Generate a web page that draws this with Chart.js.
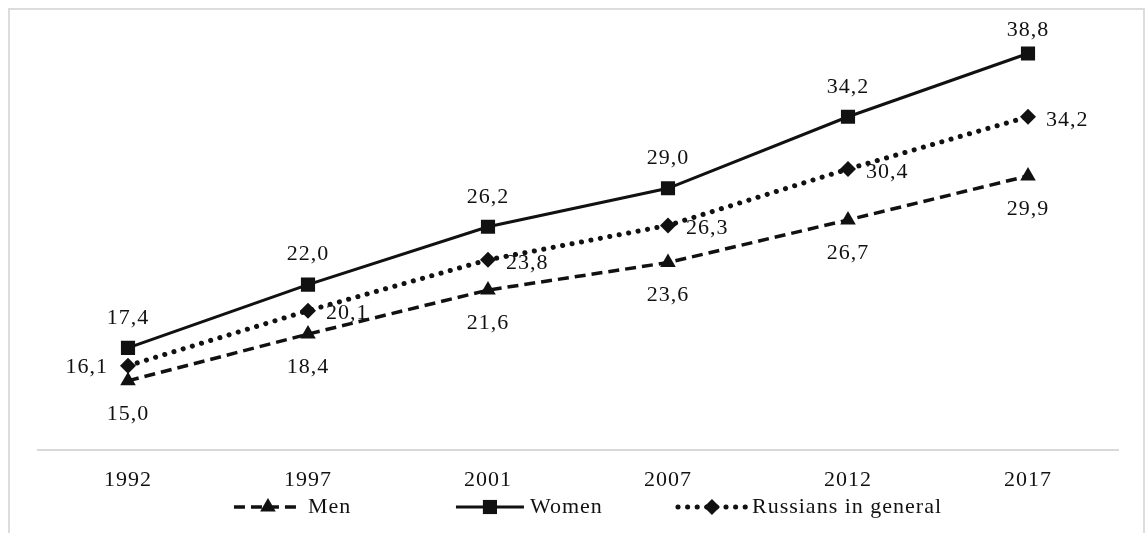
<!DOCTYPE html>
<html><head><meta charset="utf-8">
<script src="https://cdn.jsdelivr.net/npm/chart.js@4.4.0/dist/chart.umd.min.js"></script>
<style>
html,body{margin:0;padding:0;background:#fff;overflow:hidden}
#frame{position:absolute;left:8px;top:8px;width:1137px;height:600px;border:2px solid #dcdcdc;box-sizing:border-box}
#wrap{position:absolute;left:0;top:0;width:1146px;height:533px}
</style></head><body>
<div id="frame"></div>
<div id="wrap"><canvas id="c" width="1146" height="533"></canvas></div>
<script>
const categories = ['1992','1997','2001','2007','2012','2017'];
const men = [15.0, 18.4, 21.6, 23.6, 26.7, 29.9];
const women = [17.4, 22.0, 26.2, 29.0, 34.2, 38.8];
const russians = [16.1, 20.1, 23.8, 26.3, 30.4, 34.2];
const seriesNames = ['Men', 'Women', 'Russians in general'];
const menLabelPos = ['below','below','below','below','below','below'];
const womenLabelPos = ['above','above','above','above','above','above'];
const russiansLabelPos = ['left','right','right','right','right','right'];
const yMin = 10, yMax = 40;

const FONT = '"Liberation Serif", "Times New Roman", serif';
const INK = '#111';
const LS = '1px';
const FS = 22;

const spacingPlugin = {
  id: 'spacing',
  beforeDraw(chart) { chart.ctx.letterSpacing = LS; }
};

function fmt(v) { return v.toFixed(1).replace('.', ','); }

const labelsPlugin = {
  id: 'valueLabels',
  afterDatasetsDraw(chart) {
    const ctx = chart.ctx;
    ctx.save();
    ctx.letterSpacing = LS;
    ctx.font = FS + 'px ' + FONT;
    ctx.fillStyle = INK;
    ctx.textBaseline = 'middle';
    chart.data.datasets.forEach((ds, di) => {
      const meta = chart.getDatasetMeta(di);
      meta.data.forEach((pt, i) => {
        const pos = ds.labelPos[i];
        const txt = fmt(ds.data[i]);
        let x = pt.x, y = pt.y;
        if (pos === 'above') { ctx.textAlign = 'center'; y = Math.max(pt.y - 30, 30); }
        else if (pos === 'below') { ctx.textAlign = 'center'; y = pt.y + 33; }
        else if (pos === 'right') { ctx.textAlign = 'left'; x = pt.x + 18; y = pt.y + 3; }
        else { ctx.textAlign = 'right'; x = pt.x - 20; y = pt.y + 2; }
        ctx.fillText(txt, x, y);
      });
    });
    ctx.restore();
  }
};

const legendPlugin = {
  id: 'lineLegend',
  afterDraw(chart) {
    const ctx = chart.ctx;
    const area = chart.chartArea;
    ctx.save();
    ctx.letterSpacing = LS;
    ctx.font = FS + 'px ' + FONT;
    ctx.textBaseline = 'middle';
    ctx.textAlign = 'left';
    const yc = 507;
    const sample = 68, gap = 6, pitch = 222;
    const dsets = chart.data.datasets;
    const lastW = sample + gap + ctx.measureText(dsets[dsets.length - 1].label).width;
    const total = pitch * (dsets.length - 1) + lastW;
    let x0 = (area.left + area.right) / 2 + 10 - total / 2;
    dsets.forEach((ds, i) => {
      const x = x0 + i * pitch;
      ctx.save();
      ctx.strokeStyle = INK;
      ctx.lineWidth = ds.borderWidth;
      ctx.lineCap = ds.borderCapStyle || 'butt';
      ctx.setLineDash(ds.borderDash || []);
      ctx.beginPath();
      ctx.moveTo(x, yc);
      ctx.lineTo(x + sample, yc);
      ctx.stroke();
      ctx.restore();
      ctx.fillStyle = INK;
      ctx.strokeStyle = INK;
      Chart.helpers.drawPoint(ctx, {pointStyle: ds.pointStyle, radius: ds.pointRadius, rotation: 0, borderWidth: 0}, x + sample / 2, yc);
      ctx.fillStyle = INK;
      ctx.fillText(ds.label, x + sample + gap, yc);
    });
    ctx.restore();
  }
};

new Chart(document.getElementById('c'), {
  type: 'line',
  data: {
    labels: categories,
    datasets: [
      { label: seriesNames[0], data: men, labelPos: menLabelPos,
        borderColor: INK, backgroundColor: INK, borderWidth: 3.5, borderDash: [11, 6],
        pointStyle: 'triangle', pointRadius: 9, pointBorderWidth: 0, pointBackgroundColor: INK,
        tension: 0, fill: false },
      { label: seriesNames[1], data: women, labelPos: womenLabelPos,
        borderColor: INK, backgroundColor: INK, borderWidth: 3,
        pointStyle: 'rect', pointRadius: 10, pointBorderWidth: 0, pointBackgroundColor: INK,
        tension: 0, fill: false },
      { label: seriesNames[2], data: russians, labelPos: russiansLabelPos,
        borderColor: INK, backgroundColor: INK, borderWidth: 5, borderDash: [0.1, 9.5], borderCapStyle: 'round',
        pointStyle: 'rectRot', pointRadius: 8, pointBorderWidth: 0, pointBackgroundColor: INK,
        tension: 0, fill: false }
    ]
  },
  options: {
    responsive: false,
    devicePixelRatio: 1,
    animation: false,
    layout: { padding: { left: 38, right: 28, top: 37, bottom: 23 } },
    plugins: { legend: { display: false }, tooltip: { enabled: false } },
    scales: {
      x: {
        offset: true,
        grid: { display: false, drawTicks: false },
        border: { display: true, color: '#d9d9d9', width: 2 },
        ticks: { color: INK, padding: 17, autoSkip: false, maxRotation: 0, font: { family: FONT, size: FS } }
      },
      y: { display: false, min: yMin, max: yMax }
    }
  },
  plugins: [spacingPlugin, labelsPlugin, legendPlugin]
});
</script>
</body></html>
